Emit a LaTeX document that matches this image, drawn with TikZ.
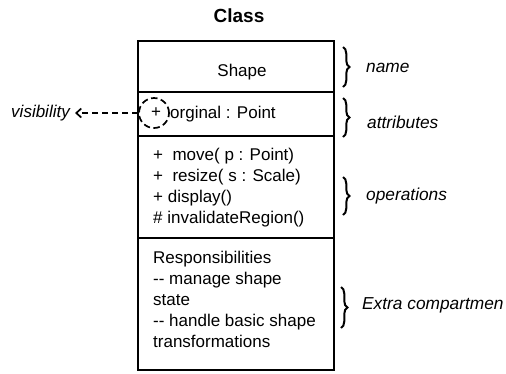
\documentclass[tikz,border=0pt]{standalone}
\usepackage{fontspec}
\setmainfont{Liberation Sans}
\usetikzlibrary{decorations.pathreplacing,arrows.meta}
\begin{document}
\begin{tikzpicture}[x=1pt,y=-1pt,
  txt/.style={inner sep=0pt,font=\fontsize{17}{21}\selectfont},
  lbl/.style={inner sep=0pt,anchor=west,font=\fontsize{17.3}{21}\selectfont\itshape},
  box/.style={draw,line width=1.6pt},
  brc/.style={decorate,decoration={brace,amplitude=6.5pt},line width=2pt},
  dsh/.style={dash pattern=on 6.5pt off 3.5pt,line width=1.7pt}]
\useasboundingbox (0,0) rectangle (506,373);
% title
\node[txt,font=\fontsize{19}{22}\selectfont\bfseries] (title) at (239,16) {Class};
% compartments
\draw[box] (138,41) rectangle (334,92);
\draw[box] (138,92) rectangle (334,136);
\draw[box] (138,136) rectangle (334,238);
\draw[box] (138,238) rectangle (334,370);
% name
\node[txt] (shape) at (242,72) {Shape};
% attributes
\node[txt] (plus) at (156,113) {+};
\node[txt,anchor=west] (attr) at (170,114) {orginal : Point};
\node[draw,circle,dsh,minimum size=30pt,inner sep=0pt] (circ) at (154,113) {};
\node[txt,font=\fontsize{17}{21}\selectfont\itshape,anchor=east] (vis) at (70,113) {visibility};
\coordinate (tip) at (75,113);
\draw[dsh,-{Straight Barb[length=5pt,width=9pt]}] (circ.west) -- (tip);
% operations
\node[txt,anchor=north west,align=left] (ops) at (153,148) {+\ \ move( p : Point)\\+\ \ resize( s : Scale)\\+ display()\\\# invalidateRegion()};
% extra
\node[txt,anchor=north west,align=left] (extra) at (153,251) {Responsibilities\\-{}- manage shape\\state\\-{}- handle basic shape\\transformations};
% braces
\coordinate (b1a) at (343,47); \coordinate (b1b) at (343,87);
\coordinate (b2a) at (343,98); \coordinate (b2b) at (343,137);
\coordinate (b3a) at (343,177); \coordinate (b3b) at (343,215);
\coordinate (b4a) at (341,287); \coordinate (b4b) at (341,328);
\draw[brc] (b1a) -- (b1b);
\draw[brc] (b2a) -- (b2b);
\draw[brc] (b3a) -- (b3b);
\draw[brc] (b4a) -- (b4b);
\node[lbl] (lname) at (366,68) {name};
\node[lbl] (lattr) at (367,122) {attributes};
\node[lbl] (lops) at (366,196) {operations};
\node[lbl] (lext) at (362,305) {Extra compartmen};
\end{tikzpicture}
\end{document}
